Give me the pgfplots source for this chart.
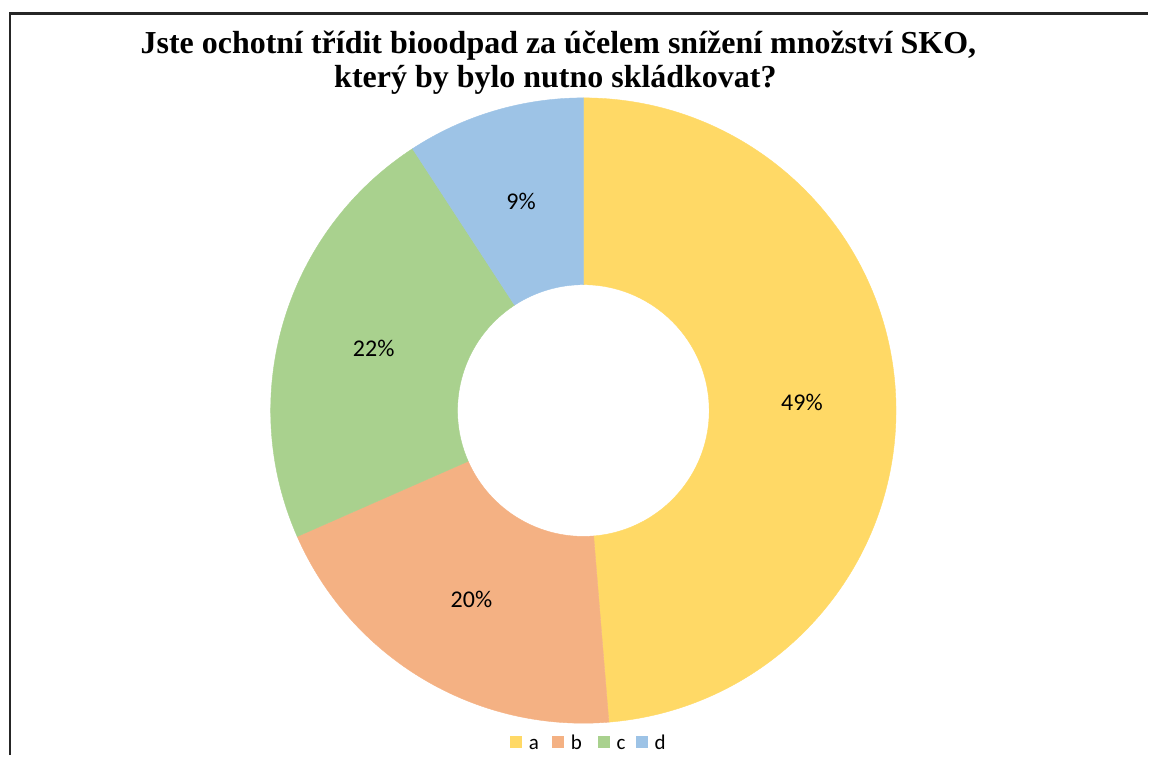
\documentclass[border=0pt]{standalone}
\usepackage{pgfplots}
\pgfplotsset{compat=1.18}
\usepackage{pgfplotstable}
\usepackage{fontspec}
\setmainfont{Liberation Serif}
\newfontfamily\calibri{Carlito}

\definecolor{ca}{RGB}{255,217,102}
\definecolor{cb}{RGB}{244,177,131}
\definecolor{cc}{RGB}{169,209,142}
\definecolor{cd}{RGB}{157,195,230}

\pgfplotstableread{
label value col legx
a 48.7 ca 511
b 19.7 cb 553
c 22.4 cc 599
d 9.2 cd 637
}\datatable

\begin{document}
\begin{tikzpicture}
\begin{axis}[x=0.5pt, y=0.5pt, xmin=0, xmax=1149, ymin=0, ymax=756,
  hide axis, scale only axis, clip=false]
\path (axis cs:0,0) (axis cs:1149,756);
% frame
\draw[line width=1.25pt, black!85] (axis cs:10,0) -- (axis cs:10,742.5) -- (axis cs:1149,742.5);
% title
\node[anchor=base, inner sep=0pt, font=\bfseries\fontsize{16}{19}\selectfont] at (axis cs:559,702) {Jste ochotní třídit bioodpad za účelem snížení množství SKO,};
\node[anchor=base, inner sep=0pt, font=\bfseries\fontsize{16}{19}\selectfont] at (axis cs:556,668) {který by bylo nutno skládkovat?};
\pgfplotstablegetrowsof{\datatable}
\pgfmathtruncatemacro\N{\pgfplotsretval-1}
\def\cum{0}
\pgfplotsforeachungrouped \i in {0,...,\N}{%
  \pgfplotstablegetelem{\i}{value}\of\datatable \let\v\pgfplotsretval
  \pgfplotstablegetelem{\i}{col}\of\datatable \let\c\pgfplotsretval
  \pgfplotstablegetelem{\i}{label}\of\datatable \let\l\pgfplotsretval
  \pgfplotstablegetelem{\i}{legx}\of\datatable \let\lx\pgfplotsretval
  \pgfmathsetmacro\aS{90-3.6*\cum}
  \pgfmathsetmacro\aE{90-3.6*(\cum+\v)}
  \pgfmathsetmacro\aM{(\aS+\aE)/2}
  \pgfmathsetmacro\cum{\cum+\v}
  \pgfmathtruncatemacro\lab{round(\v)}
  \pgfmathsetmacro\lxx{\lx+12}
  \pgfmathsetmacro\ltx{\lx+18}
  \edef\temp{%
    \noexpand\fill[\c, draw=\c, line width=0.2pt] (axis cs:{584+313*cos(\aS)},{345+313*sin(\aS)}) arc[start angle=\aS, end angle=\aE, radius=156.5pt] -- (axis cs:{584+126*cos(\aE)},{345+126*sin(\aE)}) arc[start angle=\aE, end angle=\aS, radius=63pt] -- cycle;
    \noexpand\node[font=\noexpand\calibri\noexpand\fontsize{12}{14}\noexpand\selectfont] at (axis cs:{584+219*cos(\aM)},{344.5+219*sin(\aM)}) {\lab\noexpand\%};
    \noexpand\fill[\c] (axis cs:\lx,7) rectangle (axis cs:\lxx,19);
    \noexpand\node[anchor=base west, inner sep=0pt, font=\noexpand\calibri\noexpand\fontsize{10.5}{12}\noexpand\selectfont] at (axis cs:\ltx,6) {\l};
  }%
  \temp
}
\end{axis}
\end{tikzpicture}
\end{document}
